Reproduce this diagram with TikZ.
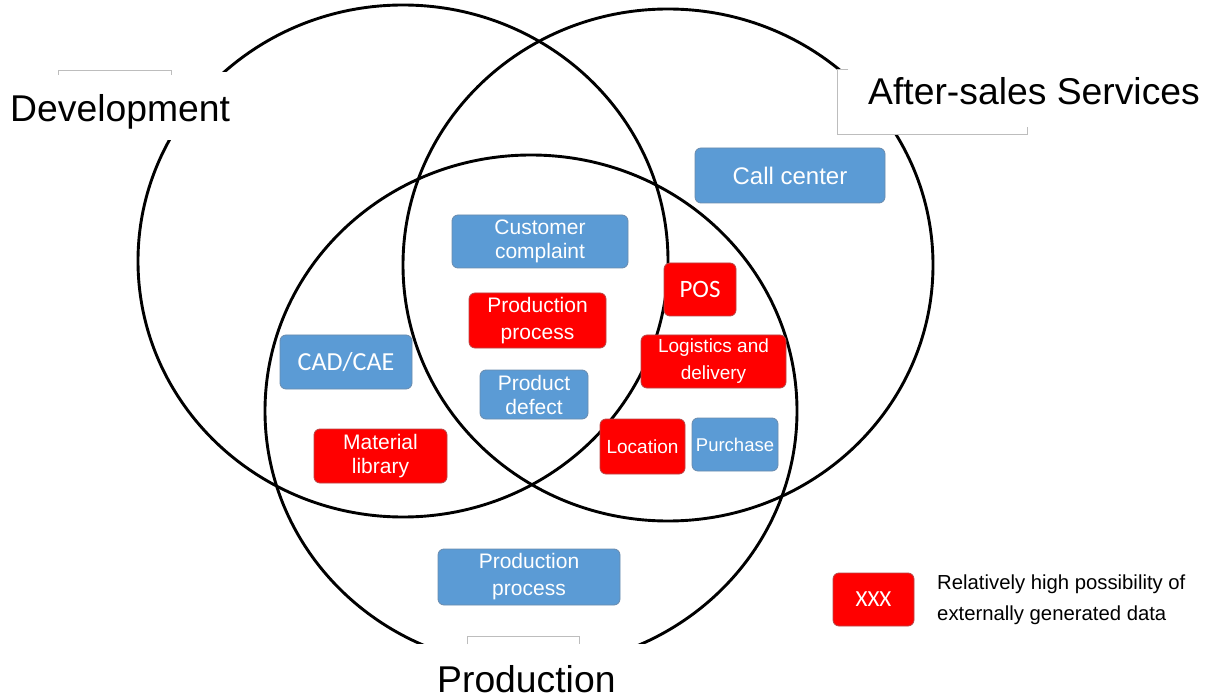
\documentclass[tikz,border=0pt]{standalone}
\usepackage{fontspec}
\setmainfont{Liberation Sans}
\newfontfamily\carlfont{Carlito}
\definecolor{boxblue}{HTML}{5B9BD5}
\definecolor{boxblueline}{HTML}{6A8BAD}
\definecolor{boxred}{HTML}{FF0000}
\definecolor{boxredline}{HTML}{B84848}
\definecolor{framegray}{HTML}{BDBDBD}
\tikzset{
  circ/.style={line width=2.9pt, draw=black},
  blank/.style={fill=white, draw=none},
  framepart/.style={draw=framegray, line width=1pt},
  bigtitle/.style={font=\fontsize{37.3}{40}\selectfont, inner sep=0pt, anchor=base west},
  box/.style={rounded corners=6pt, line width=0.8pt, inner sep=0pt, align=center,
              text=white, font=\fontsize{21}{24}\selectfont},
  bluebox/.style={box, fill=boxblue, draw=boxblueline},
  redbox/.style={box, fill=boxred, draw=boxredline},
  legendtext/.style={font=\fontsize{20.3}{24}\selectfont, inner sep=0pt, anchor=base west}
}
\begin{document}
\begin{tikzpicture}[x=1pt,y=-1pt]
\useasboundingbox (0,0) rectangle (1212,700);
% circles
\draw[circ] (403,261) ellipse [x radius=265pt, y radius=256pt];
\draw[circ] (668,265) ellipse [x radius=265pt, y radius=256pt];
\draw[circ] (531,411) ellipse [x radius=266pt, y radius=256pt];
% label backgrounds
\fill[blank] (0,72) rectangle (236,140);
\fill[blank] (838,69) rectangle (1212,134);
\fill[blank] (400,644) rectangle (662,700);
\draw[framepart] (58,75) -- (58,71) -- (171,71) -- (171,75);
\draw[framepart] (848,70) -- (837,70) -- (837,135) -- (1027,135) -- (1027,127);
\draw[framepart] (467,644) -- (467,636) -- (579,636) -- (579,644);
% titles
\node[bigtitle] (dev) at (10,122) {Development};
\node[bigtitle] (after) at (868,105) {After-sales Services};
\node[bigtitle] (prod) at (437,692) {Production};
% boxes
\node[bluebox, minimum width=190pt, minimum height=55pt, font=\fontsize{24}{26}\selectfont] (call) at (790,175.5) {Call center};
\node[bluebox, minimum width=176pt, minimum height=53pt] (complaint) at (540,241.5) {Customer\\complaint};
\node[redbox, minimum width=137pt, minimum height=55pt, font=\fontsize{21}{27}\selectfont] (pp1) at (537.5,320.5) {Production\\process};
\node[redbox, minimum width=72pt, minimum height=53pt, font=\carlfont\fontsize{25}{28}\selectfont] (pos) at (700,289.5) {POS};
\node[redbox, minimum width=145pt, minimum height=53pt, font=\fontsize{19}{27}\selectfont] (logi) at (713.5,361.5) {Logistics and\\delivery};
\node[bluebox, minimum width=132pt, minimum height=54pt, font=\carlfont\fontsize{26}{28}\selectfont] (cad) at (346,362) {CAD/CAE};
\node[bluebox, minimum width=108pt, minimum height=49pt] (defect) at (534,394.5) {Product\\defect};
\node[redbox, minimum width=133pt, minimum height=54pt] (mat) at (380.5,456) {Material\\library};
\node[redbox, minimum width=85pt, minimum height=55pt, font=\fontsize{19}{22}\selectfont] (loc) at (642.5,446.5) {Location};
\node[bluebox, minimum width=86pt, minimum height=53pt, font=\fontsize{18.5}{22}\selectfont] (purch) at (735,444.5) {Purchase};
\node[bluebox, minimum width=182pt, minimum height=56pt, font=\fontsize{21}{27}\selectfont] (pp2) at (529,577) {Production\\process};
% legend
\node[redbox, minimum width=81pt, minimum height=53pt, font=\carlfont\fontsize{23}{26}\selectfont] (leg) at (873.5,599.5) {XXX};
\node[legendtext] (legt1) at (937,589) {Relatively high possibility of};
\node[legendtext] (legt2) at (937,620) {externally generated data};
\end{tikzpicture}
\end{document}
